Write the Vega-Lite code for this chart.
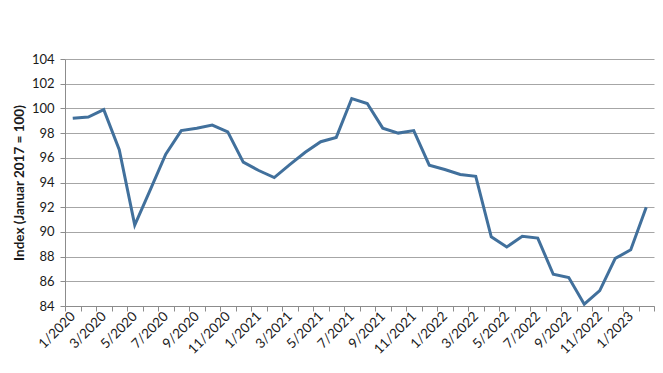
{
  "$schema": "https://vega.github.io/schema/vega-lite/v6.json",
  "width": 589,
  "height": 247,
  "autosize": "none",
  "padding": {"left": 65, "top": 59, "right": 9, "bottom": 67},
  "background": "white",
  "config": {
    "font": "Lato",
    "view": {"stroke": null}
  },
  "data": {
    "values": [
      {"month": "1/2020", "index": 99.2},
      {"month": "2/2020", "index": 99.3},
      {"month": "3/2020", "index": 99.9},
      {"month": "4/2020", "index": 96.65},
      {"month": "5/2020", "index": 90.55},
      {"month": "6/2020", "index": 93.4},
      {"month": "7/2020", "index": 96.3},
      {"month": "8/2020", "index": 98.2},
      {"month": "9/2020", "index": 98.4},
      {"month": "10/2020", "index": 98.65},
      {"month": "11/2020", "index": 98.1},
      {"month": "12/2020", "index": 95.65},
      {"month": "1/2021", "index": 94.97},
      {"month": "2/2021", "index": 94.4},
      {"month": "3/2021", "index": 95.45},
      {"month": "4/2021", "index": 96.45},
      {"month": "5/2021", "index": 97.3},
      {"month": "6/2021", "index": 97.65},
      {"month": "7/2021", "index": 100.8},
      {"month": "8/2021", "index": 100.4},
      {"month": "9/2021", "index": 98.4},
      {"month": "10/2021", "index": 98.0},
      {"month": "11/2021", "index": 98.2},
      {"month": "12/2021", "index": 95.4},
      {"month": "1/2022", "index": 95.05},
      {"month": "2/2022", "index": 94.65},
      {"month": "3/2022", "index": 94.5},
      {"month": "4/2022", "index": 89.6},
      {"month": "5/2022", "index": 88.78},
      {"month": "6/2022", "index": 89.65},
      {"month": "7/2022", "index": 89.5},
      {"month": "8/2022", "index": 86.57},
      {"month": "9/2022", "index": 86.3},
      {"month": "10/2022", "index": 84.15},
      {"month": "11/2022", "index": 85.25},
      {"month": "12/2022", "index": 87.85},
      {"month": "1/2023", "index": 88.55},
      {"month": "2/2023", "index": 92.0}
    ]
  },
  "mark": {"type": "line", "color": "#41709c", "strokeWidth": 3, "strokeJoin": "miter"},
  "encoding": {
    "x": {
      "field": "month",
      "type": "ordinal",
      "sort": null,
      "bandPosition": 0.5,
      "scale": {"type": "band", "paddingInner": 0, "paddingOuter": 0},
      "axis": {
        "title": null,
        "tickBand": "extent",
        "labelExpr": "toNumber(split(datum.value, '/')[0]) % 2 == 1 ? datum.value : ''",
        "labelOverlap": false,
        "labelAngle": -45,
        "labelAlign": "right",
        "labelBaseline": "middle",
        "labelPadding": 3,
        "labelFontSize": 13.5,
        "labelColor": "#1a1a1a",
        "domainColor": "#8c8c8c",
        "tickColor": "#8c8c8c",
        "tickSize": 5,
        "grid": false
      }
    },
    "y": {
      "field": "index",
      "type": "quantitative",
      "scale": {"domain": [84, 104], "nice": false, "zero": false},
      "axis": {
        "title": "Index (Januar 2017 = 100)",
        "titleFontSize": 13.5,
        "titleFontWeight": "bold",
        "titleColor": "#1a1a1a",
        "titlePadding": 5,
        "values": [84, 86, 88, 90, 92, 94, 96, 98, 100, 102, 104],
        "labelFontSize": 13,
        "labelColor": "#1a1a1a",
        "labelPadding": 6,
        "tickSize": 5,
        "tickColor": "#8c8c8c",
        "domainColor": "#8c8c8c",
        "gridColor": "#a6a6a6",
        "gridWidth": 1
      }
    }
  }
}
